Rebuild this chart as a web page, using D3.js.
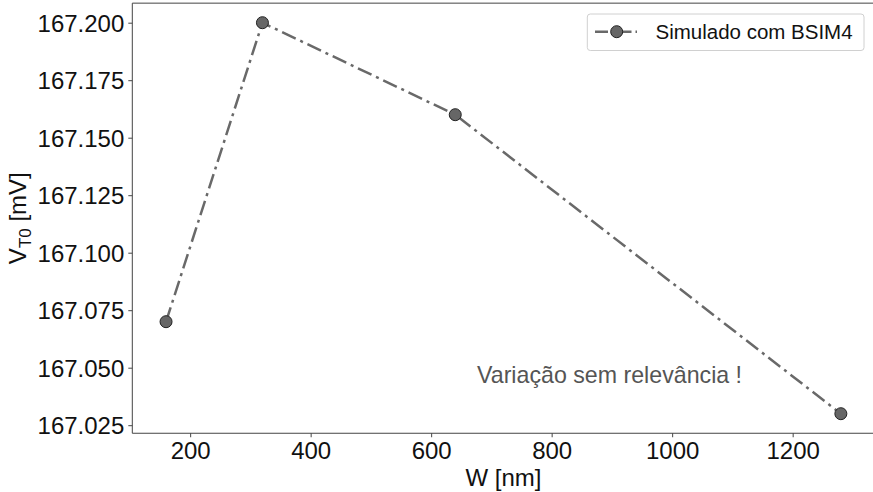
<!DOCTYPE html>
<html>
<head>
<meta charset="utf-8">
<script src="https://cdn.jsdelivr.net/npm/d3@7"></script>
<style>
  body { margin: 0; background: #fff; }
  svg text { font-family: "Liberation Sans", Arial, sans-serif; }
</style>
</head>
<body>
<svg id="chart" width="873" height="492"></svg>
<script>
// data
const widths = [160, 320, 640, 1280];          // W [nm]
const vt0 = [167.07, 167.2, 167.16, 167.03];    // V_T0 [mV]
const xTicks = [200, 400, 600, 800, 1000, 1200];
const yTicks = [167.025, 167.05, 167.075, 167.1, 167.125, 167.15, 167.175, 167.2];
const seriesName = "Simulado com BSIM4";
const note = "Variação sem relevância !";

const svg = d3.select("#chart");
const plotLeft = 132.3, plotRight = 874.6, plotTop = 3.15, plotBottom = 433.25;

const x = d3.scaleLinear().domain([104, 1336]).range([plotLeft, plotRight]);
const y = d3.scaleLinear().domain([167.0215, 167.2085]).range([plotBottom, plotTop]);

const points = widths.map((w, i) => ({ w, v: vt0[i] }));

// spines
const spine = "#444";
svg.append("line").attr("x1", plotLeft).attr("x2", plotRight).attr("y1", plotTop).attr("y2", plotTop)
  .attr("stroke", spine).attr("stroke-width", 1);
svg.append("line").attr("x1", plotRight).attr("x2", plotRight).attr("y1", plotTop).attr("y2", plotBottom)
  .attr("stroke", spine).attr("stroke-width", 1);

const xAxis = svg.append("g")
  .attr("transform", `translate(0,${plotBottom})`)
  .call(d3.axisBottom(x).tickValues(xTicks).tickFormat(d3.format("d")).tickSizeOuter(0).tickSize(4).tickPadding(5));
const yAxis = svg.append("g")
  .attr("transform", `translate(${plotLeft},0)`)
  .call(d3.axisLeft(y).tickValues(yTicks).tickFormat(d3.format(".3f")).tickSizeOuter(0).tickSize(4).tickPadding(4));

[xAxis, yAxis].forEach(g => {
  g.select(".domain").attr("stroke", spine).attr("stroke-width", 1);
  g.selectAll(".tick line").attr("stroke", spine);
  g.selectAll(".tick text").attr("fill", "#111").style("font-size", "24px")
    .style("font-family", "'Liberation Sans', Arial, sans-serif");
});
xAxis.select(".domain").attr("d", `M${plotLeft},0H${plotRight}`);
yAxis.select(".domain").attr("d", `M0,${plotTop}V${plotBottom}`);
yAxis.selectAll(".tick text").attr("dy", "0.36em");

// axis labels
svg.append("text")
  .attr("x", (plotLeft + plotRight) / 2).attr("y", 486)
  .attr("text-anchor", "middle").attr("fill", "#111")
  .style("font-size", "24px")
  .text("W [nm]");

const yl = svg.append("text")
  .attr("transform", `translate(26,${(plotTop + plotBottom) / 2}) rotate(-90)`)
  .attr("text-anchor", "middle").attr("fill", "#111")
  .style("font-size", "24px");
yl.append("tspan").text("V");
yl.append("tspan").attr("dy", 5).style("font-size", "17px").text("T0");
yl.append("tspan").attr("dy", -5).text(" [mV]");

// series
const lineColor = "#696969";
const dash = "15,5,3,5";
svg.append("path")
  .datum(points)
  .attr("fill", "none")
  .attr("stroke", lineColor)
  .attr("stroke-width", 2.5)
  .attr("stroke-dasharray", dash)
  .attr("d", d3.line().x(d => x(d.w)).y(d => y(d.v)));

svg.append("g").selectAll("circle")
  .data(points)
  .join("circle")
  .attr("cx", d => x(d.w))
  .attr("cy", d => y(d.v))
  .attr("r", 6)
  .attr("fill", "#666")
  .attr("stroke", "#222")
  .attr("stroke-width", 1);

// annotation
svg.append("text")
  .attr("x", 477).attr("y", 383)
  .attr("fill", "#555")
  .style("font-size", "23.2px")
  .text(note);

// legend
const lg = svg.append("g");
lg.append("rect")
  .attr("x", 587.3).attr("y", 14).attr("width", 276.7).attr("height", 36.5)
  .attr("rx", 3).attr("fill", "#fff").attr("stroke", "#d0d0d0").attr("stroke-width", 1);
lg.append("line")
  .attr("x1", 595).attr("x2", 637).attr("y1", 31.7).attr("y2", 31.7)
  .attr("stroke", lineColor).attr("stroke-width", 2.5).attr("stroke-dasharray", "13,4,2.5,4");
lg.append("circle")
  .attr("cx", 616.7).attr("cy", 31.7).attr("r", 6)
  .attr("fill", "#666").attr("stroke", "#222").attr("stroke-width", 1);
lg.append("text")
  .attr("x", 655.5).attr("y", 39)
  .attr("fill", "#111")
  .style("font-size", "20.5px")
  .text(seriesName);
</script>
</body>
</html>
